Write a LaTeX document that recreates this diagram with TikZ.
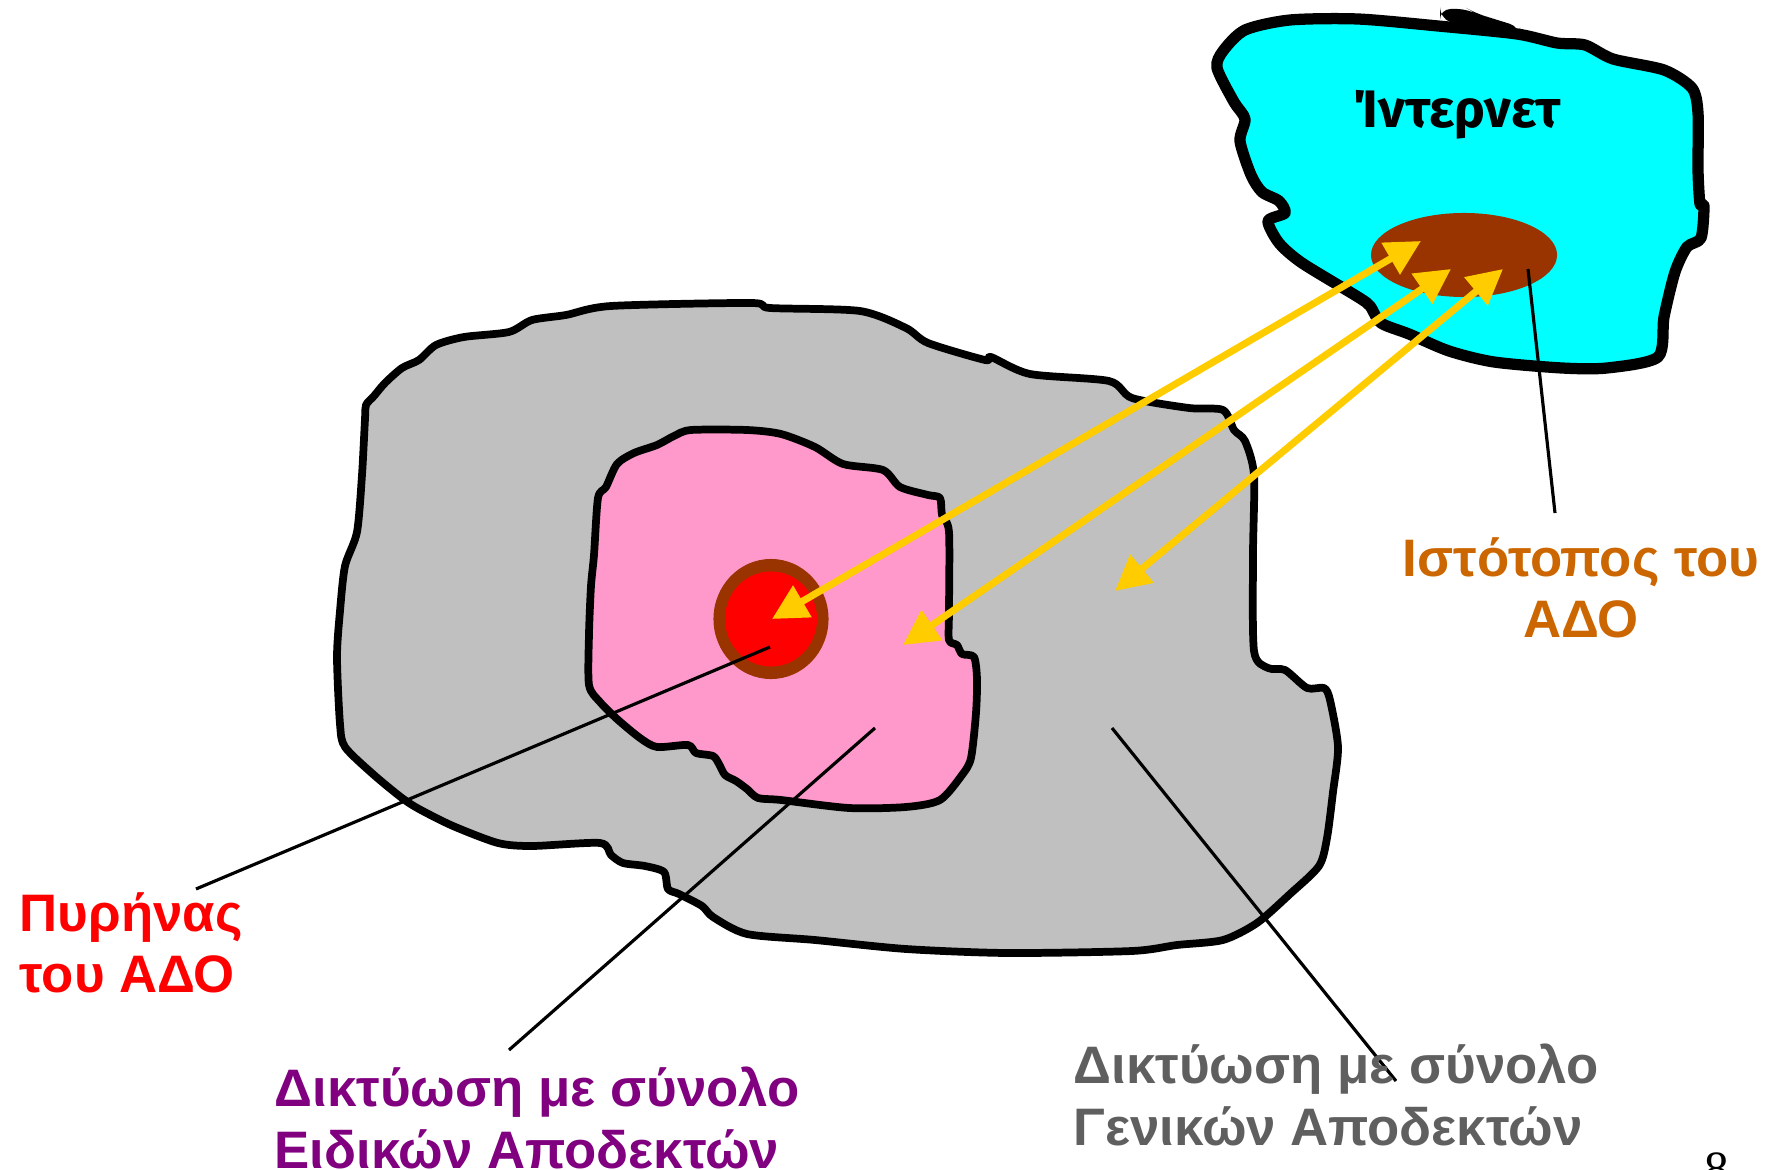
\documentclass[tikz,border=0pt]{standalone}
\usepackage{fontspec}
\setmainfont{Liberation Sans}
\newfontfamily\inetfont{Fira Sans}
\newfontfamily\numfont{Liberation Serif}
\usetikzlibrary{arrows.meta}
\definecolor{grayfill}{HTML}{C0C0C0}
\definecolor{pinkfill}{HTML}{FF99CC}
\definecolor{brownc}{HTML}{993300}
\definecolor{cyanfill}{HTML}{00FFFF}
\definecolor{yellowc}{HTML}{FFCC00}
\definecolor{orangec}{HTML}{CC6600}
\definecolor{purplec}{HTML}{800080}
\definecolor{graytext}{HTML}{5F5F5F}
\tikzset{
  outline/.style={draw=black, line width=2.2pt, line join=round},
  cloudline/.style={draw=black, line width=3.2pt, line join=round},
  leader/.style={draw=black, line width=0.9pt},
  dblarrow/.style={draw=yellowc, line width=2pt,
    {Triangle[length=10pt,width=10pt]}-{Triangle[length=10pt,width=10pt]}},
  lbl/.style={font=\bfseries\fontsize{15}{17.5}\selectfont, inner sep=0pt}
}
\begin{document}
\begin{tikzpicture}[x=0.01cm,y=-0.01cm]
\useasboundingbox (0,0) rectangle (1775,1170);
% gray region
\path[outline, fill=grayfill] plot[smooth cycle, tension=0.45] coordinates {
(611,306) (751,303) (770,308) (860,311) (906,328) (928,343) (985,360) (991,357)
(1030,374) (1109,381) (1132,398) (1189,408) (1223,410) (1234,430) (1245,441)
(1254,475) (1253,555) (1254,651) (1268,668) (1285,670) (1307,688) (1324,688)
(1330,700) (1338,747) (1333,792) (1327,838) (1319,866) (1290,894) (1257,923)
(1223,940) (1177,945) (1132,951) (1007,953) (906,949) (815,940) (747,934)
(713,917) (702,906) (679,894) (668,889) (664,872) (645,866) (623,863) (611,855)
(600,843) (532,846) (498,843) (453,826) (419,809) (402,798) (374,775) (345,747)
(340,724) (337,657) (340,611) (345,566) (357,532) (362,475) (365,419) (366,405)
(374,396) (385,383) (402,368) (419,360) (436,345) (464,337) (509,332) (532,320)
(566,315)};
% pink region
\path[outline, fill=pinkfill] plot[smooth cycle, tension=0.45] coordinates {
(691,430) (747,430) (781,434) (815,447) (843,464) (883,470) (900,487) (928,495)
(940,498) (942,515) (949,532) (949,611) (949,640) (957,645) (962,654) (974,657)
(977,679) (976,713) (971,758) (962,775) (940,800) (906,807) (849,808) (781,800)
(758,798) (747,789) (736,781) (725,775) (719,764) (713,756) (696,753) (688,745)
(657,747) (640,738) (617,719) (600,702) (589,685) (589,634) (591,586) (594,555)
(598,498) (606,487) (617,464) (634,453) (657,445) (674,436)};
% core
\fill[brownc] (771,619) ellipse [x radius=0.575cm, y radius=0.60cm];
\fill[red] (771,619) ellipse [x radius=0.46cm, y radius=0.475cm];
% internet cloud
\path[cloudline, fill=cyanfill] plot[smooth cycle, tension=0.45] coordinates {
(1223,51) (1245,30) (1290,20) (1358,19) (1438,26) (1517,34) (1557,43) (1585,45)
(1613,59) (1664,70) (1692,88) (1698,113) (1698,170) (1700,204) (1704,206)
(1701,238) (1687,247) (1675,272) (1664,317) (1658,357) (1607,368) (1562,368)
(1494,362) (1449,351) (1409,334) (1381,323) (1370,306) (1358,297) (1302,263)
(1279,243) (1268,221) (1285,213) (1279,201) (1262,192) (1251,175) (1240,141)
(1245,119) (1234,102) (1217,68)};
\fill[black, rounded corners=3pt] (1440,9) -- (1468,9) -- (1475,13) -- (1520,27)
  -- (1520,38) -- (1470,30) -- (1440,18) -- cycle;
\fill[brownc] (1464,255) ellipse [x radius=0.93cm, y radius=0.42cm];
\node[inner sep=0pt, font=\inetfont\bfseries\fontsize{15}{18}\selectfont] (inet) at (1457,115) {Ίντερνετ};
% leader line coordinates
\coordinate (pyA) at (770,647);  \coordinate (pyB) at (196,889);
\coordinate (eiA) at (875,728);  \coordinate (eiB) at (509,1050);
\coordinate (geA) at (1112,728); \coordinate (geB) at (1396,1081);
\coordinate (isA) at (1528,269); \coordinate (isB) at (1555,513);
\draw[leader] (pyA) -- (pyB);
\draw[leader] (eiA) -- (eiB);
\draw[leader] (geA) -- (geB);
\draw[leader] (isA) -- (isB);
% arrows
\coordinate (a1s) at (1421,241); \coordinate (a1e) at (772,619);
\coordinate (a2s) at (1451,269); \coordinate (a2e) at (903,645);
\coordinate (a3s) at (1503,269); \coordinate (a3e) at (1115,591);
\draw[dblarrow] (a1e) -- (a1s);
\draw[dblarrow] (a2e) -- (a2s);
\draw[dblarrow] (a3e) -- (a3s);
% labels
\node[lbl, text=red, align=left, anchor=west] (pyr) at (19,943) {Πυρήνας\\του ΑΔΟ};
\node[lbl, text=orangec, align=center] (ist) at (1581,588) {Ιστότοπος του\\ΑΔΟ};
\node[lbl, text=purplec, align=left, anchor=west] (eid) at (274,1118) {Δικτύωση με σύνολο\\Ειδικών Αποδεκτών};
\node[lbl, text=graytext, align=left, anchor=west] (gen) at (1073,1095) {Δικτύωση με σύνολο\\Γενικών Αποδεκτών};
\node[inner sep=0pt, anchor=north, font=\numfont\fontsize{14}{16}\selectfont] (pg) at (1717,1152) {8};
\end{tikzpicture}
\end{document}
